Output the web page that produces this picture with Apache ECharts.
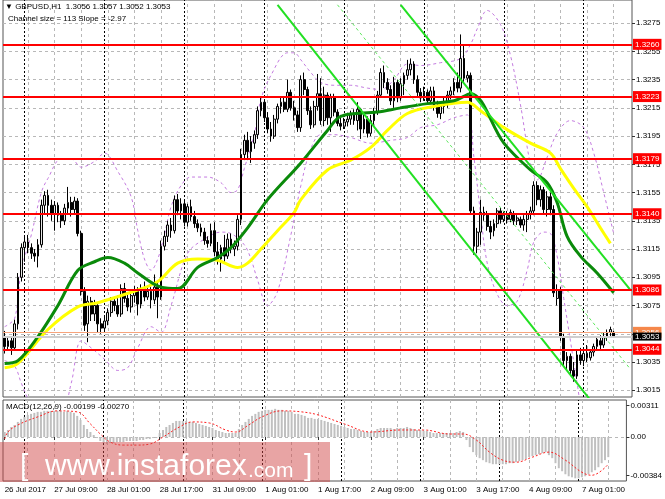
<!DOCTYPE html>
<html>
<head>
<meta charset="utf-8">
<script src="https://cdn.jsdelivr.net/npm/echarts@6/dist/echarts.min.js"></script>
<style>
  html, body { margin: 0; padding: 0; background: #fff; }
  #chart { width: 665px; height: 499px; }
</style>
</head>
<body>
<div id="chart"></div>
<script>
// hourly bars, first one is 26 Jul 18:00
const days = ['26 Jul', '27 Jul', '28 Jul', '31 Jul', '1 Aug', '2 Aug', '3 Aug', '4 Aug', '7 Aug'];
const firstHour = 18;
const slots = 189; // 184 bars + empty space on the right

// x tick labels (bar index)
const tickIdx = [0, 15, 31, 47, 63, 79, 95, 111, 127, 143, 159, 175];
const firstTickText = '26 Jul 2017';
const daySeparators = [6, 30, 54, 78, 102, 126, 150, 174];
const vGrid = [7, 15, 23, 31, 39, 47, 55, 63, 71, 79, 87, 95, 103, 111, 119, 127, 135, 143, 151, 159, 167, 175, 183];

// price axis labels
const priceTicks = [1.3015, 1.3035, 1.3055, 1.3075, 1.3095, 1.3115, 1.3135, 1.3155, 1.3175, 1.3195, 1.3215, 1.3235, 1.3255, 1.3275];
const levels = [1.3260, 1.3223, 1.3179, 1.3140, 1.3086, 1.3044];
const lastOpen = 1.3056, lastClose = 1.3053;

// [open, high, low, close]
const ohlc = [
  [1.3052,1.3057,1.3041,1.3046],[1.3046,1.3053,1.3043,1.3050],[1.3050,1.3052,1.3040,1.3045],[1.3045,1.3065,1.3043,1.3062],
  [1.3062,1.3098,1.3058,1.3095],[1.3095,1.3119,1.3092,1.3116],[1.3116,1.3124,1.3106,1.3120],[1.3120,1.3125,1.3112,1.3116],
  [1.3116,1.3119,1.3108,1.3112],[1.3112,1.3115,1.3106,1.3110],[1.3110,1.3122,1.3102,1.3118],[1.3118,1.3150,1.3116,1.3146],
  [1.3146,1.3156,1.3140,1.3153],[1.3153,1.3157,1.3138,1.3146],[1.3146,1.3150,1.3135,1.3140],[1.3140,1.3149,1.3128,1.3146],
  [1.3146,1.3148,1.3134,1.3139],[1.3139,1.3142,1.3130,1.3135],[1.3135,1.3147,1.3132,1.3144],[1.3144,1.3159,1.3140,1.3148],
  [1.3148,1.3152,1.3138,1.3143],[1.3143,1.3152,1.3140,1.3149],[1.3149,1.3151,1.3124,1.3126],[1.3126,1.3128,1.3082,1.3085],
  [1.3085,1.3088,1.3057,1.3061],[1.3062,1.3082,1.3049,1.3078],[1.3078,1.3081,1.3064,1.3069],[1.3069,1.3079,1.3064,1.3075],
  [1.3075,1.3077,1.3056,1.3062],[1.3062,1.3066,1.3055,1.3059],[1.3059,1.3067,1.3056,1.3064],[1.3064,1.3073,1.3061,1.3070],
  [1.3070,1.3081,1.3067,1.3078],[1.3078,1.3080,1.3071,1.3075],[1.3075,1.3082,1.3067,1.3069],[1.3069,1.3090,1.3067,1.3087],
  [1.3087,1.3091,1.3077,1.3080],[1.3080,1.3084,1.3071,1.3074],[1.3074,1.3085,1.3070,1.3082],[1.3082,1.3089,1.3077,1.3086],
  [1.3086,1.3088,1.3068,1.3076],[1.3076,1.3090,1.3073,1.3087],[1.3087,1.3092,1.3078,1.3081],[1.3081,1.3089,1.3079,1.3085],
  [1.3085,1.3088,1.3073,1.3079],[1.3079,1.3097,1.3076,1.3088],[1.3088,1.3091,1.3066,1.3081],[1.3081,1.3121,1.3079,1.3117],
  [1.3117,1.3128,1.3114,1.3124],[1.3124,1.3135,1.3120,1.3132],[1.3132,1.3137,1.3123,1.3128],[1.3128,1.3153,1.3126,1.3150],
  [1.3150,1.3154,1.3139,1.3142],[1.3142,1.3151,1.3136,1.3147],[1.3147,1.3149,1.3131,1.3134],[1.3134,1.3147,1.3131,1.3145],
  [1.3145,1.3150,1.3135,1.3138],[1.3138,1.3142,1.3130,1.3133],[1.3133,1.3136,1.3127,1.3130],[1.3130,1.3133,1.3124,1.3127],
  [1.3127,1.3130,1.3118,1.3121],[1.3121,1.3124,1.3116,1.3119],[1.3119,1.3133,1.3117,1.3128],[1.3128,1.3134,1.3110,1.3113],
  [1.3113,1.3120,1.3104,1.3108],[1.3108,1.3118,1.3099,1.3116],[1.3116,1.3125,1.3106,1.3110],[1.3110,1.3126,1.3108,1.3122],
  [1.3122,1.3126,1.3112,1.3115],[1.3115,1.3121,1.3110,1.3117],[1.3117,1.3139,1.3114,1.3136],[1.3136,1.3186,1.3132,1.3182],
  [1.3182,1.3196,1.3178,1.3192],[1.3192,1.3198,1.3178,1.3184],[1.3184,1.3195,1.3176,1.3191],[1.3190,1.3199,1.3186,1.3196],
  [1.3196,1.3216,1.3193,1.3213],[1.3213,1.3223,1.3209,1.3219],[1.3219,1.3221,1.3205,1.3208],[1.3208,1.3212,1.3197,1.3200],
  [1.3200,1.3205,1.3191,1.3195],[1.3195,1.3210,1.3193,1.3207],[1.3207,1.3218,1.3204,1.3216],[1.3216,1.3222,1.3211,1.3219],
  [1.3219,1.3222,1.3212,1.3214],[1.3214,1.3235,1.3212,1.3226],[1.3226,1.3228,1.3213,1.3215],[1.3215,1.3220,1.3206,1.3210],
  [1.3210,1.3213,1.3198,1.3201],[1.3201,1.3238,1.3198,1.3235],[1.3235,1.3240,1.3224,1.3228],[1.3228,1.3230,1.3210,1.3213],
  [1.3213,1.3216,1.3200,1.3203],[1.3203,1.3220,1.3201,1.3216],[1.3216,1.3239,1.3213,1.3225],[1.3225,1.3236,1.3203,1.3206],
  [1.3206,1.3230,1.3202,1.3224],[1.3224,1.3226,1.3203,1.3208],[1.3208,1.3225,1.3198,1.3222],[1.3222,1.3225,1.3209,1.3212],
  [1.3212,1.3214,1.3202,1.3204],[1.3204,1.3210,1.3199,1.3202],[1.3202,1.3208,1.3200,1.3205],[1.3205,1.3210,1.3202,1.3207],
  [1.3207,1.3213,1.3203,1.3210],[1.3210,1.3214,1.3203,1.3206],[1.3206,1.3219,1.3199,1.3214],[1.3214,1.3215,1.3193,1.3200],
  [1.3200,1.3210,1.3197,1.3207],[1.3207,1.3209,1.3194,1.3197],[1.3197,1.3210,1.3195,1.3206],[1.3206,1.3215,1.3203,1.3212],
  [1.3212,1.3227,1.3210,1.3224],[1.3224,1.3243,1.3222,1.3240],[1.3240,1.3245,1.3229,1.3233],[1.3233,1.3236,1.3225,1.3228],
  [1.3228,1.3231,1.3217,1.3220],[1.3220,1.3237,1.3215,1.3233],[1.3233,1.3235,1.3219,1.3222],[1.3222,1.3236,1.3220,1.3232],
  [1.3232,1.3240,1.3224,1.3238],[1.3238,1.3249,1.3235,1.3242],[1.3242,1.3250,1.3238,1.3246],[1.3246,1.3248,1.3232,1.3235],
  [1.3235,1.3238,1.3223,1.3226],[1.3226,1.3229,1.3219,1.3222],[1.3222,1.3230,1.3220,1.3226],[1.3226,1.3228,1.3217,1.3220],
  [1.3220,1.3230,1.3218,1.3227],[1.3227,1.3230,1.3213,1.3216],[1.3216,1.3220,1.3208,1.3211],[1.3211,1.3218,1.3207,1.3216],
  [1.3216,1.3222,1.3211,1.3219],[1.3219,1.3227,1.3215,1.3224],[1.3224,1.3230,1.3221,1.3227],[1.3227,1.3236,1.3224,1.3233],
  [1.3233,1.3240,1.3226,1.3229],[1.3229,1.3267,1.3226,1.3250],[1.3250,1.3260,1.3232,1.3236],[1.3236,1.3241,1.3233,1.3238],
  [1.3238,1.3240,1.3140,1.3142],[1.3142,1.3145,1.3111,1.3117],[1.3117,1.3130,1.3112,1.3127],[1.3127,1.3150,1.3118,1.3141],
  [1.3141,1.3145,1.3135,1.3139],[1.3139,1.3142,1.3128,1.3131],[1.3131,1.3135,1.3122,1.3127],[1.3128,1.3136,1.3124,1.3133],
  [1.3133,1.3144,1.3130,1.3142],[1.3142,1.3144,1.3133,1.3136],[1.3136,1.3142,1.3134,1.3139],[1.3139,1.3142,1.3133,1.3136],
  [1.3136,1.3143,1.3134,1.3141],[1.3140,1.3142,1.3132,1.3135],[1.3135,1.3139,1.3132,1.3137],[1.3136,1.3138,1.3130,1.3132],
  [1.3132,1.3139,1.3128,1.3136],[1.3136,1.3142,1.3127,1.3140],[1.3140,1.3145,1.3136,1.3142],[1.3142,1.3163,1.3139,1.3160],
  [1.3160,1.3163,1.3146,1.3150],[1.3150,1.3160,1.3145,1.3157],[1.3157,1.3159,1.3140,1.3143],[1.3143,1.3156,1.3138,1.3152],
  [1.3152,1.3155,1.3139,1.3143],[1.3143,1.3146,1.3081,1.3084],[1.3080,1.3090,1.3075,1.3086],[1.3086,1.3088,1.3050,1.3053],
  [1.3053,1.3055,1.3032,1.3036],[1.3036,1.3042,1.3030,1.3039],[1.3039,1.3041,1.3025,1.3029],[1.3029,1.3035,1.3021,1.3025],
  [1.3025,1.3043,1.3023,1.3040],[1.3040,1.3045,1.3033,1.3036],[1.3036,1.3044,1.3032,1.3041],[1.3041,1.3047,1.3035,1.3038],
  [1.3038,1.3044,1.3036,1.3042],[1.3042,1.3048,1.3039,1.3046],[1.3046,1.3053,1.3043,1.3051],[1.3050,1.3054,1.3044,1.3047],
  [1.3047,1.3056,1.3045,1.3053],[1.3053,1.3058,1.3050,1.3056],[1.3056,1.3060,1.3053,1.3058],[1.3056,1.3057,1.3052,1.3053]
];

// moving averages, read at [bar, price]
const maGreen = [[0,1.3034],[4,1.3036],[10,1.3053],[16,1.3075],[22,1.3100],[27,1.3106],[31,1.3109],[36,1.3105],[40,1.3098],
  [47,1.3088],[52,1.3087],[58,1.3102],[64,1.3109],[68,1.3116],[73,1.3130],[79,1.3150],[89,1.3176],[97,1.3199],[101,1.3209],
  [112,1.3212],[119,1.3215],[127,1.3218],[135,1.3220],[140,1.3225],[150,1.3190],[158,1.3171],[163,1.3162],[166,1.3148],
  [169,1.3124],[173,1.3110],[178,1.3098],[183,1.3084]];
const maYellow = [[0,1.3031],[4,1.3034],[13,1.3058],[22,1.3074],[28,1.3077],[40,1.3086],[46,1.3092],[52,1.3105],[58,1.3108],
  [64,1.3107],[70,1.3102],[73,1.3105],[77,1.3115],[82,1.3128],[87,1.3141],[89,1.3150],[97,1.3171],[104,1.3178],[110,1.3187],
  [115,1.3199],[121,1.3211],[129,1.3216],[139,1.3219],[143,1.3213],[150,1.3201],[158,1.3190],[164,1.3183],[167,1.3172],
  [171,1.3158],[175,1.3145],[179,1.3130],[182,1.3119]];

// bollinger bands
const bbUpper = [[0,1.3060],[3,1.3066],[5,1.3100],[8,1.3125],[11,1.3155],[13,1.3165],[17,1.3179],[20,1.3179],[23,1.3173],
  [27,1.3177],[30,1.3183],[34,1.3170],[38,1.3152],[40,1.3128],[42,1.3108],[44,1.3100],[46,1.3108],[48,1.3125],[50,1.3145],
  [53,1.3160],[56,1.3166],[61,1.3166],[65,1.3162],[68,1.3155],[70,1.3157],[72,1.3172],[75,1.3196],[77,1.3221],[80,1.3238],
  [85,1.3254],[87,1.3254],[89,1.3249],[92,1.3240],[95,1.3233],[99,1.3231],[104,1.3231],[109,1.3229],[113,1.3228],[117,1.3235],
  [121,1.3246],[125,1.3245],[131,1.3247],[137,1.3250],[140,1.3260],[142,1.3271],[145,1.3284],[149,1.3274],[152,1.3252],
  [155,1.3217],[158,1.3175],[160,1.3164],[163,1.3180],[166,1.3197],[170,1.3206],[174,1.3201],[177,1.3183],[180,1.3155],[183,1.3126]];
const bbLower = [[0,1.3036],[3,1.3032],[5,1.3020],[8,1.3004],[12,1.2990],[16,1.2990],[20,1.3020],[23,1.3050],[26,1.3045],
  [30,1.3037],[34,1.3029],[37,1.3031],[40,1.3045],[44,1.3060],[47,1.3056],[50,1.3075],[55,1.3112],[60,1.3122],[65,1.3127],
  [68,1.3126],[72,1.3118],[74,1.3108],[76,1.3093],[79,1.3075],[82,1.3085],[86,1.3125],[89,1.3160],[92,1.3186],[95,1.3196],
  [99,1.3196],[104,1.3194],[110,1.3190],[116,1.3192],[121,1.3194],[125,1.3201],[130,1.3203],[135,1.3208],[139,1.3210],
  [141,1.3180],[143,1.3140],[145,1.3105],[148,1.3083],[151,1.3075],[154,1.3078],[157,1.3100],[159,1.3120],[162,1.3127],
  [164,1.3126],[166,1.3110],[168,1.3080],[170,1.3050],[172,1.3020],[174,1.2995],[177,1.2985],[180,1.2988],[183,1.2995]];

// regression channel ends
const chLower = [[82,1.3288],[176,1.3008]];
const chMid = [[100,1.3288],[188,1.3030]];
const chUpper = [[119,1.3288],[188,1.3086]];

// MACD histogram (one per bar) and signal line
const macd = [
  0.0005,0.0007,0.0010,0.0012,0.0015,0.0018,0.0020,0.0022,0.0023,0.0024,
  0.0025,0.0025,0.0026,0.0026,0.0026,0.0026,0.0026,0.0026,0.0025,0.0026,
  0.0025,0.0024,0.0021,0.0017,0.0012,0.0008,0.0005,0.0002,-0.0001,-0.0004,
  -0.0006,-0.0007,-0.0006,-0.0006,-0.0005,-0.0005,-0.0005,-0.0004,-0.0004,-0.0004,
  -0.0004,-0.0003,-0.0003,-0.0002,-0.0002,-0.0001,-0.0001,0.0004,0.0007,0.0010,
  0.0012,0.0014,0.0016,0.0016,0.0016,0.0016,0.0015,0.0015,0.0014,0.0013,
  0.0012,0.0011,0.0010,0.0009,0.0007,0.0006,0.0005,0.0004,0.0004,0.0004,
  0.0004,0.0008,0.0012,0.0015,0.0018,0.0021,0.0023,0.0025,0.0026,0.0027,
  0.0027,0.0027,0.0028,0.0027,0.0027,0.0026,0.0026,0.0025,0.0023,0.0023,
  0.0022,0.0021,0.0019,0.0019,0.0018,0.0018,0.0017,0.0016,0.0015,0.0014,
  0.0013,0.0012,0.0011,0.0010,0.0009,0.0008,0.0008,0.0007,0.0006,0.0005,
  0.0005,0.0005,0.0006,0.0008,0.0009,0.0009,0.0009,0.0009,0.0008,0.0009,
  0.0009,0.0009,0.0010,0.0009,0.0008,0.0007,0.0007,0.0006,0.0006,0.0005,
  0.0004,0.0004,0.0004,0.0004,0.0004,0.0004,0.0004,0.0005,0.0006,0.0005,
  -0.0003,-0.0010,-0.0015,-0.0018,-0.0021,-0.0023,-0.0025,-0.0026,-0.0027,-0.0027,
  -0.0027,-0.0027,-0.0027,-0.0026,-0.0026,-0.0025,-0.0024,-0.0023,-0.0022,-0.0020,
  -0.0019,-0.0018,-0.0017,-0.0016,-0.0015,-0.0018,-0.0021,-0.0026,-0.0031,-0.0034,
  -0.0037,-0.0039,-0.0040,-0.0041,-0.0041,-0.0040,-0.0039,-0.0037,-0.0035,-0.0033,
  -0.0030,-0.0026,-0.0023,-0.0020
];
const signal = [[0,-0.0002],[1,0.0005],[4,0.0012],[10,0.0020],[16,0.0026],[22,0.0025],[26,0.0013],[29,0.0003],[32,-0.0005],
  [36,-0.0008],[40,-0.0008],[44,-0.0007],[48,0.0000],[53,0.0010],[57,0.0015],[62,0.0014],[67,0.0007],[70,0.0005],[74,0.0012],
  [78,0.0020],[84,0.0026],[90,0.0025],[95,0.0022],[103,0.0013],[111,0.0005],[120,0.0007],[127,0.0007],[135,0.0003],[139,0.0003],
  [143,-0.0003],[147,-0.0015],[151,-0.0023],[155,-0.0025],[160,-0.0020],[165,-0.0015],[170,-0.0023],[175,-0.0035],[178,-0.0038],
  [183,-0.0027]];
const macdTicks = [0.00311, 0, -0.00384];

const FONT = '"Liberation Sans", Arial, sans-serif';

const cats = [];
{
  let d = 0, h = firstHour;
  for (let k = 0; k < slots; k++) {
    cats.push(days[d] + ' ' + String(h).padStart(2, '0') + ':00');
    h++;
    if (h === 24) { h = 0; d++; }
  }
}

const candleData = ohlc.map(r => [r[0], r[3], r[2], r[1]]);
const isTick = i => tickIdx.indexOf(i) >= 0;

const gridLineStyle = { color: '#b8b8b8', type: [3, 3], width: 1 };
const sepLineStyle = { color: '#000', type: [2, 2], width: 1 };

const mainGridMarks = priceTicks.map(v => ({ yAxis: v, lineStyle: gridLineStyle }))
  .concat(vGrid.map(i => ({ xAxis: cats[i], lineStyle: gridLineStyle })))
  .concat(daySeparators.map(i => ({ xAxis: cats[i], lineStyle: sepLineStyle })));

const macdMarks = [{ yAxis: 0, lineStyle: gridLineStyle }]
  .concat(vGrid.map(i => ({ xAxis: cats[i], lineStyle: gridLineStyle })))
  .concat(daySeparators.map(i => ({ xAxis: cats[i], lineStyle: sepLineStyle })));

const levelMarks = levels.map(v => ({ yAxis: v }))
  .concat([
    { yAxis: lastOpen, lineStyle: { color: '#f7a37b', width: 1, type: 'solid' },
      label: { backgroundColor: '#f5874a', padding: [0, 2, 2, 2] } },
    { yAxis: lastClose, lineStyle: { color: '#cfcfcf', width: 2, type: 'solid' },
      label: { backgroundColor: '#000', padding: [0, 2, 0, 2], lineHeight: 8 } }
  ]);

function band(data, color, width, dash, z) {
  return {
    type: 'line', xAxisIndex: 0, yAxisIndex: 0, data: data, smooth: 0.35, symbol: 'none',
    lineStyle: { color: color, width: width, type: dash || 'solid' }, z: z || 3, silent: true
  };
}

const chart = echarts.init(document.getElementById('chart'));
chart.setOption({
  animation: false,
  backgroundColor: '#fff',
  textStyle: { fontFamily: FONT },
  grid: [
    { left: 3, right: 33, top: 0, height: 397, show: true, borderColor: '#555', borderWidth: 1 },
    { left: 3, right: 33, top: 400, height: 81, show: true, borderColor: '#555', borderWidth: 1 }
  ],
  xAxis: [
    { type: 'category', gridIndex: 0, data: cats, boundaryGap: true,
      axisLine: { show: false }, axisTick: { show: false }, axisLabel: { show: false }, splitLine: { show: false } },
    { type: 'category', gridIndex: 1, data: cats, boundaryGap: true,
      axisLine: { show: false },
      axisTick: { show: true, alignWithLabel: true, length: 3, interval: (i) => isTick(i), lineStyle: { color: '#333' } },
      axisLabel: { show: true, interval: (i) => isTick(i), align: 'left', fontSize: 8, color: '#000', margin: 5,
        fontFamily: FONT, formatter: (v, i) => i === 0 ? firstTickText : v },
      splitLine: { show: false } }
  ],
  yAxis: [
    { type: 'value', gridIndex: 0, position: 'right', min: 1.30102, max: 1.32914,
      axisLine: { show: false },
      axisTick: { show: true, customValues: priceTicks, length: 3, lineStyle: { color: '#333' } },
      axisLabel: { customValues: priceTicks, formatter: v => v.toFixed(4), fontSize: 8, color: '#000', margin: 4, fontFamily: FONT },
      splitLine: { show: false } },
    { type: 'value', gridIndex: 1, position: 'right', min: -0.00437, max: 0.00368,
      axisLine: { show: false },
      axisTick: { show: true, customValues: macdTicks, length: 3, lineStyle: { color: '#333' } },
      axisLabel: { customValues: macdTicks, formatter: v => v === 0 ? '0.00' : v.toFixed(5), fontSize: 8, color: '#000', margin: 4, fontFamily: FONT },
      splitLine: { show: false } }
  ],
  series: [
    { type: 'line', name: 'grid', xAxisIndex: 0, yAxisIndex: 0, data: [], silent: true,
      markLine: { silent: true, precision: 6, symbol: ['none', 'none'], z: 0, label: { show: false }, data: mainGridMarks } },
    band(bbUpper, '#c47be0', 1, [3, 3], 2),
    band(bbLower, '#c47be0', 1, [3, 3], 2),
    { type: 'candlestick', xAxisIndex: 0, yAxisIndex: 0, data: candleData, barWidth: '68%', z: 3,
      itemStyle: { color: '#e6e6e6', color0: '#000', borderColor: '#000', borderColor0: '#000', borderWidth: 1 },
      markLine: {
        silent: true, precision: 6, symbol: ['none', 'none'], z: 7,
        lineStyle: { color: '#ff0000', width: 2, type: 'solid' },
        label: { show: true, position: 'end', distance: 1, formatter: p => Number(p.value).toFixed(4), color: '#fff',
          backgroundColor: '#ff0000', padding: [1, 2, 1, 2], fontSize: 8, lineHeight: 9, fontFamily: FONT },
        data: levelMarks
      } },
    band(maYellow, '#ffff00', 3, 'solid', 4),
    band(maGreen, '#0a8a0a', 3, 'solid', 4),
    { type: 'line', xAxisIndex: 0, yAxisIndex: 0, data: chLower, symbol: 'none', z: 5, silent: true,
      lineStyle: { color: '#22e022', width: 2 } },
    { type: 'line', xAxisIndex: 0, yAxisIndex: 0, data: chUpper, symbol: 'none', z: 5, silent: true,
      lineStyle: { color: '#22e022', width: 2 } },
    { type: 'line', xAxisIndex: 0, yAxisIndex: 0, data: chMid, symbol: 'none', z: 5, silent: true,
      lineStyle: { color: '#5ee85e', width: 1, type: [3, 3] } },
    { type: 'bar', xAxisIndex: 1, yAxisIndex: 1, data: macd, barWidth: 2, silent: true,
      itemStyle: { color: '#c0c0c0' },
      markLine: { silent: true, precision: 6, symbol: ['none', 'none'], z: 0, label: { show: false }, data: macdMarks } },
    { type: 'line', xAxisIndex: 1, yAxisIndex: 1, data: signal, symbol: 'none', smooth: 0.4, z: 4, silent: true,
      lineStyle: { color: '#ff2020', width: 1, type: [2, 2] } }
  ],
  graphic: [
    { type: 'text', x: 5, y: 3, z: 10, style: { text: '\u25BC GBPUSD,H1  1.3056 1.3057 1.3052 1.3053', font: '8px ' + FONT, fill: '#000' } },
    { type: 'text', x: 8, y: 15, z: 10, style: { text: 'Channel size = 113 Slope = -2.97', font: '8px ' + FONT, fill: '#000' } },
    { type: 'text', x: 6, y: 403, z: 10, style: { text: 'MACD(12,26,9) -0.00199 -0.00270', font: '8px ' + FONT, fill: '#000' } },
    { type: 'rect', x: 0, y: 442, z: 20, shape: { width: 330, height: 40 }, style: { fill: 'rgba(208,69,69,0.49)' } },
    { type: 'text', x: 20, y: 452, z: 21, style: { text: '[', font: '30px ' + FONT, fill: '#fff' } },
    { type: 'text', x: 45, y: 452, z: 21, style: { text: 'www.instaforex', font: '30px ' + FONT, fill: '#fff' } },
    { type: 'text', x: 248, y: 461, z: 21, style: { text: '.com', font: '21px ' + FONT, fill: '#fff' } },
    { type: 'text', x: 304, y: 452, z: 21, style: { text: ']', font: '30px ' + FONT, fill: '#fff' } }
  ]
});
</script>
</body>
</html>
